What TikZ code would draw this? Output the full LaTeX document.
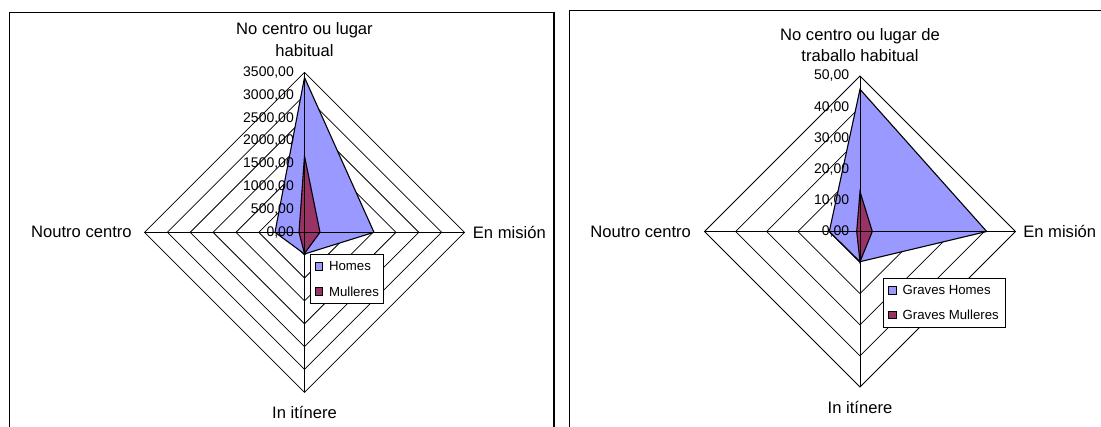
\documentclass[tikz,border=0pt]{standalone}
\usepackage{fontspec}
\setmainfont{Liberation Sans}
\usetikzlibrary{positioning}
\definecolor{homes}{RGB}{153,153,255}
\definecolor{mulleres}{RGB}{153,51,102}

\begin{document}
\begin{tikzpicture}[x=1pt, y=-1pt,
		ring/.style = {draw, line width=0.75pt},
		spoke/.style = {draw, line width=0.9pt},
		area/.style = {draw, line width=1.1pt, line join=miter},
		frame/.style = {draw, line width=1.4pt},
		axis/.style = {inner sep=0pt, align=center, font=\fontsize{16.6}{21.4}\selectfont},
		tick/.style = {inner sep=0pt, anchor=east, font=\fontsize{14}{16}\selectfont},
		legend/.style = {draw, fill=white, line width=0.9pt, inner sep=0pt, anchor=north west},
		swatch/.style = {draw, line width=0.8pt, minimum size=7.5pt, inner sep=0pt},
		legtext/.style = {inner sep=0pt, font=\fontsize{13.2}{15}\selectfont}]
		\path[use as bounding box, clip] (0,0) rectangle (1101,426);
		
		% left chart
		\draw[frame] (9.3,440) -- (9.3,12.7) -- (554,12.7) -- (554,440);
		\begin{scope}[shift={(304.5,232.3)}]
			\coordinate (1n) at (0,-160);
			\coordinate (1e) at (160,0);
			\coordinate (1s) at (0,160);
			\coordinate (1w) at (-160,0);
			
			\draw[ring] (0,-22.86) -- (22.86,0) -- (0,22.86) -- (-22.86,0) -- cycle;
			\draw[ring] (0,-45.71) -- (45.71,0) -- (0,45.71) -- (-45.71,0) -- cycle;
			\draw[ring] (0,-68.57) -- (68.57,0) -- (0,68.57) -- (-68.57,0) -- cycle;
			\draw[ring] (0,-91.43) -- (91.43,0) -- (0,91.43) -- (-91.43,0) -- cycle;
			\draw[ring] (0,-114.29) -- (114.29,0) -- (0,114.29) -- (-114.29,0) -- cycle;
			\draw[ring] (0,-137.14) -- (137.14,0) -- (0,137.14) -- (-137.14,0) -- cycle;
			\draw[ring] (1n) -- (1e) -- (1s) -- (1w) -- cycle;
			
			\draw[area, fill=homes] (0,-154.8) -- (69.5,0) -- (0,21.7) -- (-29.5,0) -- cycle;
			\draw[area, fill=mulleres] (0,-76.3) -- (15.5,0) -- (0,21.2) -- (-5.5,0) -- cycle;
			
			\draw[spoke] (1n) -- (1s);
			\draw[spoke] (1w) -- (1e);
			
			\node[tick] (1t0) at (-10.5,0) {0,00};
			\node[tick] (1t1) at (-10.5,-22.86) {500,00};
			\node[tick] (1t2) at (-10.5,-45.71) {1000,00};
			\node[tick] (1t3) at (-10.5,-68.57) {1500,00};
			\node[tick] (1t4) at (-10.5,-91.43) {2000,00};
			\node[tick] (1t5) at (-10.5,-114.29) {2500,00};
			\node[tick] (1t6) at (-10.5,-137.14) {3000,00};
			\node[tick] (1t7) at (-10.5,-160) {3500,00};
		\end{scope}
		\node[axis, above=15.6pt of 1n] (1ln) {No centro ou lugar\\habitual};
		\node[axis, left=12.6pt of 1w] (1lw) {Noutro centro};
		\node[axis, right=8.2pt of 1e] (1le) {En misión};
		\node[axis, below=14pt of 1s] (1ls) {In itínere};
		
		\node[legend, minimum width=73.3pt, minimum height=48.7pt] (1leg) at (310,254) {};
		\node[swatch, fill=homes] (1sq1) at (318.7,266.3) {};
		\node[swatch, fill=mulleres] (1sq2) at (318.7,291.3) {};
		\node[legtext, right=6pt of 1sq1] (1lh) {Homes};
		\node[legtext, right=6pt of 1sq2] (1lm) {Mulleres};
		
		% right chart
		\draw[frame] (569.3,440) -- (569.3,10.5) -- (1110,10.5);
		\begin{scope}[shift={(860,231.5)}]
			\coordinate (2n) at (0,-155.5);
			\coordinate (2e) at (155.5,0);
			\coordinate (2s) at (0,155.5);
			\coordinate (2w) at (-155.5,0);
			
			\draw[ring] (0,-31.1) -- (31.1,0) -- (0,31.1) -- (-31.1,0) -- cycle;
			\draw[ring] (0,-62.2) -- (62.2,0) -- (0,62.2) -- (-62.2,0) -- cycle;
			\draw[ring] (0,-93.3) -- (93.3,0) -- (0,93.3) -- (-93.3,0) -- cycle;
			\draw[ring] (0,-124.4) -- (124.4,0) -- (0,124.4) -- (-124.4,0) -- cycle;
			\draw[ring] (2n) -- (2e) -- (2s) -- (2w) -- cycle;
			
			\draw[area, fill=homes] (0,-142.2) -- (126.7,0) -- (0,30.2) -- (-30.7,0) -- cycle;
			\draw[area, fill=mulleres] (0,-39.8) -- (12.3,0) -- (0,30.2) -- (-3.3,0) -- cycle;
			
			\draw[spoke] (2n) -- (2s);
			\draw[spoke] (2w) -- (2e);
			
			\node[tick] (2t0) at (-10.7,0) {0,00};
			\node[tick] (2t1) at (-10.7,-31.1) {10,00};
			\node[tick] (2t2) at (-10.7,-62.2) {20,00};
			\node[tick] (2t3) at (-10.7,-93.3) {30,00};
			\node[tick] (2t4) at (-10.7,-124.4) {40,00};
			\node[tick] (2t5) at (-10.7,-155.5) {50,00};
		\end{scope}
		\node[axis, above=13.7pt of 2n] (2ln) {No centro ou lugar de\\traballo habitual};
		\node[axis, left=13.3pt of 2w] (2lw) {Noutro centro};
		\node[axis, right=7.6pt of 2e] (2le) {En misión};
		\node[axis, below=14pt of 2s] (2ls) {In itínere};
		
		\node[legend, minimum width=121.7pt, minimum height=49.6pt] (2leg) at (883.3,277.7) {};
		\node[swatch, fill=homes] (2sq1) at (892.5,290.3) {};
		\node[swatch, fill=mulleres] (2sq2) at (892.5,315) {};
		\node[legtext, right=5.8pt of 2sq1] (2lh) {Graves Homes};
		\node[legtext, right=5.8pt of 2sq2] (2lm) {Graves Mulleres};
	\end{tikzpicture}
\end{document}
